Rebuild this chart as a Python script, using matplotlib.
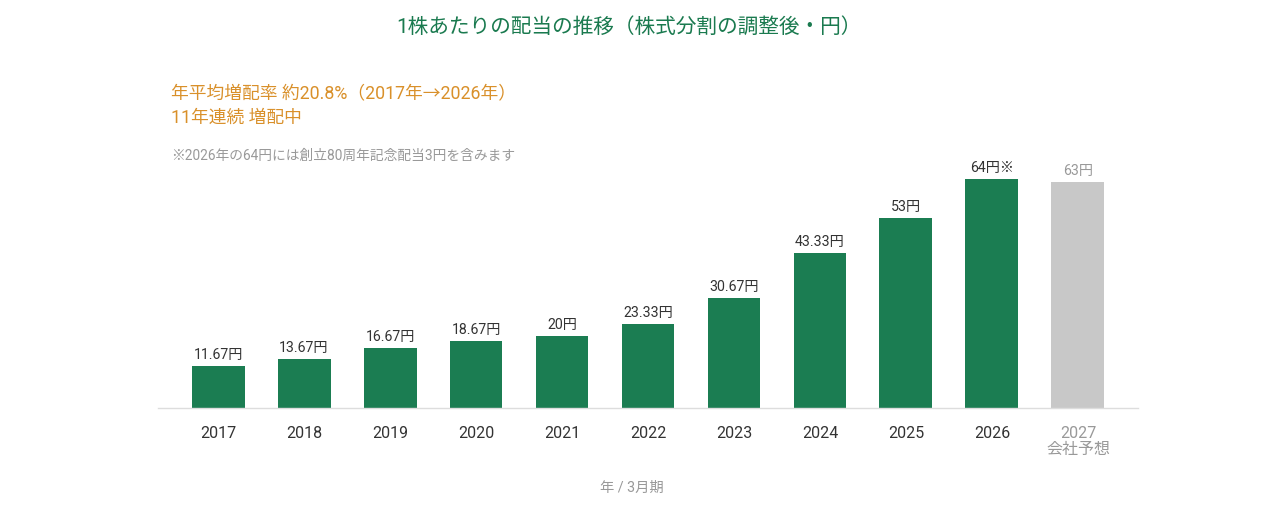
import matplotlib
matplotlib.use("Agg")
import matplotlib.pyplot as plt

plt.rcParams['font.family'] = ['Roboto', 'Noto Sans CJK JP', 'DejaVu Sans']

years = ["2017", "2018", "2019", "2020", "2021", "2022", "2023", "2024", "2025", "2026", "2027"]
tick_labels = ["2017", "2018", "2019", "2020", "2021", "2022", "2023", "2024", "2025", "2026", "2027\n会社予想"]
dividends = [11.67, 13.67, 16.67, 18.67, 20, 23.33, 30.67, 43.33, 53, 64, 63]
value_labels = ["11.67円", "13.67円", "16.67円", "18.67円", "20円", "23.33円", "30.67円", "43.33円", "53円", "64円※", "63円"]
is_forecast = [False] * 10 + [True]

GREEN = "#1b7d52"
GREY_BAR = "#c8c8c8"
TEXT = "#333333"
GREY_TEXT = "#999999"
ORANGE = "#d9902a"

W, H = 1265, 505
fig = plt.figure(figsize=(W / 100, H / 100), dpi=100)
ax_left, ax_right = 158, 1138
ax_bottom, ax_top = 408, 150
ax = fig.add_axes([ax_left / W, (H - ax_bottom) / H, (ax_right - ax_left) / W, (ax_bottom - ax_top) / H])

x = list(range(len(years)))
colors = [GREY_BAR if f else GREEN for f in is_forecast]
ax.bar(x, dividends, width=0.616, color=colors, zorder=2)
ax.set_xlim(-0.698, len(years) - 1 + 0.698)
ax.set_ylim(0, 258 / 3.58)

for xi, v, lab, f in zip(x, dividends, value_labels, is_forecast):
    ax.annotate(lab, (xi, v), xytext=(0, 3), textcoords="offset points",
                ha="center", va="bottom", fontsize=10.2,
                color=GREY_TEXT if f else TEXT)

ax.set_xticks(x)
ax.set_xticklabels(tick_labels, fontsize=11.5, linespacing=1.05)
for t, f in zip(ax.get_xticklabels(), is_forecast):
    t.set_color(GREY_TEXT if f else TEXT)
    t.set_va("top")
ax.tick_params(axis="x", length=0, pad=13)
ax.set_yticks([])
for s in ["top", "left", "right"]:
    ax.spines[s].set_visible(False)
ax.spines["bottom"].set_color("#dddddd")
ax.spines["bottom"].set_linewidth(1)

fig.text(629 / W, 1 - 27 / H, "1株あたりの配当の推移（株式分割の調整後・円）",
         ha="center", va="center", fontsize=14.9, color="#1a7a4f")
fig.text(171 / W, 1 - 93 / H, "年平均増配率 約20.8%（2017年→2026年）",
         ha="left", va="center", fontsize=12.8, color=ORANGE)
fig.text(171 / W, 1 - 118 / H, "11年連続 増配中",
         ha="left", va="center", fontsize=12.8, color=ORANGE)
fig.text(171 / W, 1 - 156 / H, "※2026年の64円には創立80周年記念配当3円を含みます",
         ha="left", va="center", fontsize=9.9, color=GREY_TEXT)
fig.text(632 / W, 1 - 488 / H, "年 / 3月期",
         ha="center", va="center", fontsize=10.3, color=GREY_TEXT)

fig.savefig("out.png", dpi=100, facecolor="white")
